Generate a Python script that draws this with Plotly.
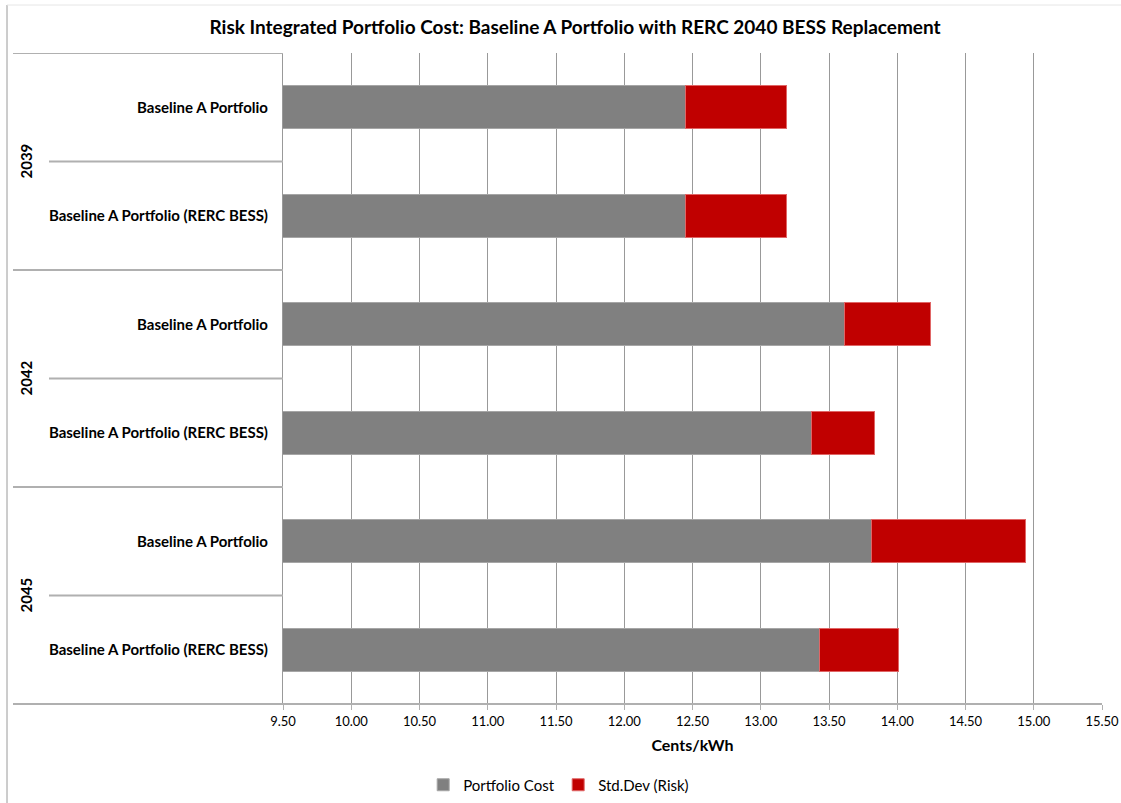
import plotly.graph_objects as go

# data
years = ["2039", "2042", "2045"]
portfolios = [
    "Baseline A Portfolio",
    "Baseline A Portfolio (RERC BESS)",
]
portfolio_cost = [12.45, 12.45, 13.61, 13.37, 13.81, 13.43]
std_dev_risk = [0.74, 0.74, 0.63, 0.46, 1.13, 0.58]
x_ticks = [9.5 + 0.5 * i for i in range(13)]

labels = [p for _ in years for p in portfolios]
pos = list(range(len(labels)))

FONT = "Lato, 'Open Sans', sans-serif"
GREY = "#808080"
RED = "#C00000"

# plot-area geometry in pixels, used for paper-coordinate decorations
W, H = 1121, 803
L, R, T, B = 283, 19, 53, 99
pw, ph = W - L - R, H - T - B


def px_x(px):
    return (px - L) / pw


def px_y(py):
    return 1 - (py - T) / ph


fig = go.Figure()
fig.add_trace(
    go.Bar(
        y=pos,
        x=portfolio_cost,
        orientation="h",
        name="Portfolio Cost",
        marker={"color": GREY, "line": {"color": "#a6a6a6", "width": 1}},
        width=0.4,
    )
)
fig.add_trace(
    go.Bar(
        y=pos,
        x=std_dev_risk,
        orientation="h",
        name="Std.Dev (Risk)",
        marker={"color": RED, "line": {"color": "#e06666", "width": 1}},
        width=0.4,
    )
)

shapes = []
line_col = "#b0b0b0"
n_inner = len(portfolios)
# category separators: outer boundaries span the whole label area, inner ones only the name column
for b in range(len(labels)):
    yb = b - 0.5
    x0 = px_x(13) if b % n_inner == 0 else px_x(49)
    shapes.append(
        dict(type="line", xref="paper", yref="y", x0=x0, x1=0, y0=yb, y1=yb,
             line={"color": line_col, "width": 2})
    )
# axis line extended across the label area
shapes.append(
    dict(type="line", xref="paper", yref="paper", x0=px_x(13), x1=1, y0=0, y1=0,
         line={"color": line_col, "width": 2})
)
# chart frame
shapes.append(
    dict(type="line", xref="paper", yref="paper", x0=px_x(7), x1=px_x(7),
         y0=px_y(5), y1=px_y(803), line={"color": "#9a9a9a", "width": 1})
)
shapes.append(
    dict(type="line", xref="paper", yref="paper", x0=px_x(7), x1=px_x(1121),
         y0=px_y(5), y1=px_y(5), line={"color": "#e6e6e6", "width": 1})
)

annotations = []
for i, yr in enumerate(years):
    mid = i * n_inner + (n_inner - 1) / 2
    annotations.append(
        dict(text="<b>%s</b>" % yr, xref="paper", yref="y", x=px_x(25), y=mid,
             xanchor="center", yanchor="middle",
             textangle=-90, showarrow=False, font={"size": 15, "color": "black", "family": FONT})
    )

fig.update_layout(
    width=W,
    height=H,
    margin={"l": L, "r": R, "t": T, "b": B, "autoexpand": False},
    paper_bgcolor="white",
    plot_bgcolor="white",
    barmode="stack",
    title={
        "text": "<b>Risk Integrated Portfolio Cost: Baseline A Portfolio with RERC 2040 BESS Replacement</b>",
        "x": 0.513,
        "xanchor": "center",
        "y": 1 - 27 / H,
        "yanchor": "middle",
        "font": {"size": 19, "color": "black", "family": FONT},
    },
    xaxis={
        "range": [9.5, 15.5],
        "tickvals": x_ticks,
        "tickformat": ".2f",
        "showgrid": True,
        "gridcolor": "#999999",
        "gridwidth": 1,
        "zeroline": False,
        "showline": False,
        "ticks": "outside",
        "ticklen": 5,
        "tickcolor": line_col,
        "automargin": False,
        "tickfont": {"size": 13, "color": "black", "family": FONT},
        "title": {"text": "<b>Cents/kWh</b>", "font": {"size": 16, "color": "black", "family": FONT}, "standoff": 12},
    },
    yaxis={
        "tickvals": pos,
        "ticktext": ["<b>%s</b>" % s for s in labels],
        "range": [len(labels) - 0.5, -0.5],
        "showgrid": False,
        "zeroline": False,
        "showline": True,
        "linecolor": "#999999",
        "linewidth": 1,
        "ticks": "",
        "automargin": False,
        "ticklabelstandoff": 11,
        "tickfont": {"size": 15, "color": "black", "family": FONT},
    },
    legend={
        "orientation": "h",
        "x": 0.336,
        "xanchor": "center",
        "y": px_y(785),
        "yanchor": "middle",
        "font": {"size": 15, "color": "black", "family": FONT},
        "traceorder": "normal",
        "itemwidth": 30,
        "entrywidth": 90,
        "entrywidthmode": "pixels",
    },
    shapes=shapes,
    annotations=annotations,
    bargap=0.6,
)

# the page's default body margin would shift the chart by 8px
fig.write_html(
    "out.html",
    config={"displayModeBar": False},
    post_script="document.body.style.margin = '0';",
)
